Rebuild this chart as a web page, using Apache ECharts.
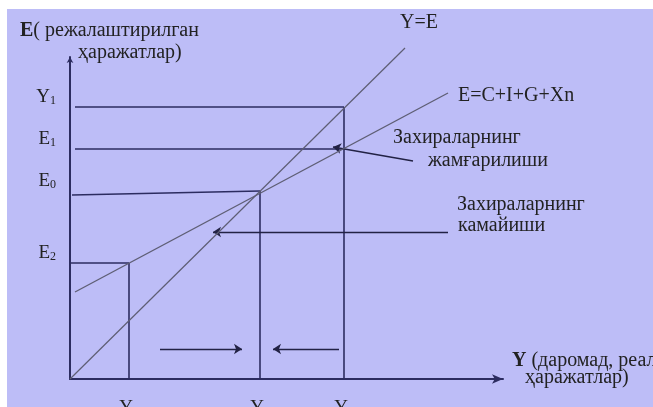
<!DOCTYPE html>
<html>
<head>
<meta charset="utf-8">
<script src="https://cdn.jsdelivr.net/npm/echarts@6/dist/echarts.min.js"></script>
<style>
  html, body { margin: 0; padding: 0; background: #fff; }
  #chart { width: 653px; height: 407px; }
</style>
</head>
<body>
<div id="chart"></div>
<script>
var myChart = echarts.init(document.getElementById('chart'));

// уровни на осях (в условных единицах)
var xTicks = [59, 190, 274];
var xTickNames = [['Y', '2'], ['Y', '0'], ['Y', '1']];
var yTicks = [272, 230, 188, 116];
var yTickNames = [['Y', '1'], ['E', '1'], ['E', '0'], ['E', '2']];

// линии Y=E и E=C+I+G+Xn
var lineYE = [[0, 0], [335, 331]];
var lineE = [[5, 87], [378, 286]];

// вспомогательные отрезки
var guides = [
    [[5, 272], [274, 272]],
    [[5, 230], [274, 230]],
    [[2, 184], [190, 188]],
    [[0, 116], [59, 116]],
    [[59, 0], [59, 116]],
    [[190, 0], [190, 188]],
    [[274, 0], [274, 272]]
];
// стрелки
var arrows = [
    [[343, 218], [263, 232]],
    [[378, 147], [143, 147]],
    [[90, 30], [172, 30]],
    [[269, 30], [203, 30]]
];

var bg = '#bdbdf7';
var ink = '#2c2c60';
var font = '"Liberation Serif", "DejaVu Serif", serif';

function sub(pair) {
    return '{m|' + pair[0] + '}{s|' + pair[1] + '}';
}
var rich = {
    m: { fontSize: 19, fontFamily: font, color: '#222' },
    s: { fontSize: 12, fontFamily: font, color: '#222', verticalAlign: 'bottom', padding: [7, 0, 0, 0] }
};

function txt(x, y, text) {
    return {
        type: 'text',
        left: x,
        top: y,
        style: { text: text, font: '20px ' + font, fill: '#222' }
    };
}

var option = {
    animation: false,
    graphic: [
        { type: 'rect', z: -10, silent: true, shape: { x: 7, y: 9, width: 646, height: 398 }, style: { fill: bg } },
        {
            type: 'text', left: 20, top: 21, z: 10,
            style: {
                text: '{b|E}{n|( режалаштирилган}',
                rich: {
                    b: { font: 'bold 20px ' + font, fill: '#222' },
                    n: { font: '20px ' + font, fill: '#222' }
                }
            }
        },
        txt(78, 43, 'ҳаражатлар)'),
        txt(400, 13, 'Y=E'),
        txt(458, 86, 'E=C+I+G+Xn'),
        txt(393, 128, 'Захираларнинг'),
        txt(428, 151, 'жамғарилиши'),
        txt(457, 195, 'Захираларнинг'),
        txt(458, 216, 'камайиши'),
        {
            type: 'text', left: 512, top: 351, z: 10,
            style: {
                text: '{b|Y}{n| (даромад, реал}',
                rich: {
                    b: { font: 'bold 20px ' + font, fill: '#222' },
                    n: { font: '20px ' + font, fill: '#222' }
                }
            }
        },
        txt(525, 368, 'ҳаражатлар)')
    ],
    grid: { left: 70, top: 57, right: 150, bottom: 28, outerBoundsMode: 'none', containLabel: false },
    xAxis: {
        type: 'value',
        min: 0,
        max: 433,
        splitLine: { show: false },
        axisLine: { lineStyle: { color: ink, width: 2 }, symbol: ['none', 'arrow'], symbolSize: [7, 11] },
        axisTick: { show: false },
        axisLabel: {
            customValues: xTicks,
            margin: 20,
            rich: rich,
            formatter: function (v) { return sub(xTickNames[xTicks.indexOf(v)]); }
        }
    },
    yAxis: {
        type: 'value',
        min: 0,
        max: 322,
        splitLine: { show: false },
        axisLine: { lineStyle: { color: ink, width: 2 }, symbol: ['none', 'arrow'], symbolSize: [5, 6] },
        axisTick: { show: false },
        axisLabel: {
            customValues: yTicks,
            margin: 14,
            verticalAlign: 'bottom',
            rich: rich,
            formatter: function (v) { return sub(yTickNames[yTicks.indexOf(v)]); }
        }
    },
    series: [
        {
            type: 'line', data: lineYE, showSymbol: false, silent: true, clip: false,
            lineStyle: { color: '#5e5e74', width: 1.2 }
        },
        {
            type: 'line', data: lineE, showSymbol: false, silent: true, clip: false,
            lineStyle: { color: '#5e5e74', width: 1.4 }
        },
        {
            type: 'lines', coordinateSystem: 'cartesian2d', silent: true,
            symbol: 'none',
            lineStyle: { color: ink, width: 1.6, opacity: 1 },
            data: guides.map(function (c) { return { coords: c }; })
        },
        {
            type: 'lines', coordinateSystem: 'cartesian2d', silent: true,
            symbol: ['none', 'arrow'], symbolSize: 8,
            lineStyle: { color: '#222244', width: 1.4, opacity: 1 },
            data: arrows.map(function (c) { return { coords: c }; })
        }
    ]
};

myChart.setOption(option);
</script>
</body>
</html>
